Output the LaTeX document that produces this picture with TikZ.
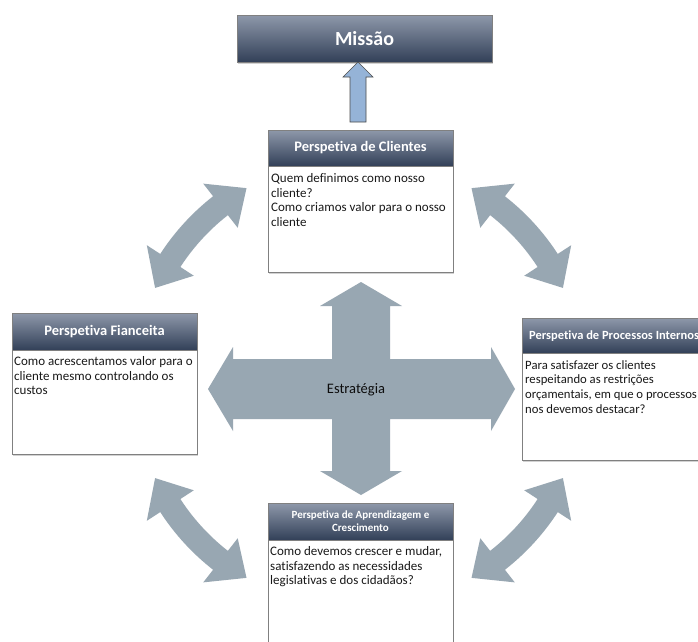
\documentclass[tikz,border=0pt]{standalone}
\usepackage{fontspec}
\setmainfont{Carlito}[Ligatures=NoCommon]
\usetikzlibrary{shadows,calc}
\definecolor{hdtop}{RGB}{142,152,170}
\definecolor{hdbot}{RGB}{50,64,88}
\definecolor{arrowgray}{RGB}{152,167,178}
\definecolor{upblue}{RGB}{149,179,215}
\definecolor{boxline}{RGB}{128,128,128}
\tikzset{
  hdr/.style={draw=boxline, line width=0.7pt, top color=hdtop, bottom color=hdbot},
  bodybox/.style={draw=boxline, line width=0.7pt, fill=white, drop shadow={shadow xshift=1.2pt, shadow yshift=-1.5pt, opacity=0.35}},
  hdtext/.style={text=white, font=\bfseries\fontsize{14.5}{16}\selectfont, inner sep=0pt, align=center},
  bodytext/.style={font=\fontsize{13}{14.8}\selectfont, inner sep=0pt, align=left, anchor=north west, text=black!90},
  bigarrow/.style={fill=arrowgray, draw=none}
}
\newcommand\bscCurved[2]{%
  \fill[arrowgray, shift={(359,383)}]
    (#1:225) -- ({#1+8}:253) -- ({#1+8}:237)
    arc[start angle={#1+8}, end angle={#2-8}, radius=237]
    -- ({#2-8}:253) -- (#2:225) -- ({#2-8}:197) -- ({#2-8}:213)
    arc[start angle={#2-8}, end angle={#1+8}, radius=213]
    -- ({#1+8}:197) -- cycle;}
\begin{document}
\begin{tikzpicture}[x=1pt,y=-1pt]
\useasboundingbox (0,0) rectangle (698,641);
\clip (0,0) rectangle (698,641);
\fill[white] (0,0) rectangle (698,641);

% curved double arrows
\bscCurved{205}{240}
\bscCurved{300}{335}
\bscCurved{25}{60}
\bscCurved{120}{155}

% central cross arrow
\fill[arrowgray] (361,282) -- (402,306) -- (390,306) -- (390,359) -- (491,359) -- (491,347)
  -- (515,389) -- (491,431) -- (491,419) -- (390,419) -- (390,471) -- (402,471)
  -- (361,495) -- (320,471) -- (332,471) -- (332,419) -- (233,419) -- (233,431)
  -- (208,389) -- (233,347) -- (233,359) -- (332,359) -- (332,306) -- (320,306) -- cycle;
\node[font=\fontsize{14.5}{16}\selectfont, text=black!95, inner sep=0pt] (estr) at (356,390) {Estratégia};

% Missao
\path[hdr, drop shadow={shadow xshift=1.2pt, shadow yshift=-1.5pt, opacity=0.35}] (237,15) rectangle (492,62);
\node[text=white, font=\bfseries\fontsize{20}{22}\selectfont, inner sep=0pt] (missao) at (364.5,38.5) {Missão};
\coordinate (mbot) at (358,62);
\draw[fill=upblue, draw=black!70, line width=0.6pt] (mbot) -- (373,77) -- (366,77) -- (366,122) -- (350,122) -- (350,77) -- (343,77) -- cycle;

% Clientes
\path[bodybox] (268,130) rectangle (453,272);
\path[hdr] (268,130) rectangle (453,166);
\node[hdtext] (hcli) at (360.5,148) {Perspetiva de Clientes};
\node[bodytext] (tcli) at (271,173) {Quem definimos como nosso\\cliente?\\Como criamos valor para o nosso\\cliente};

% Fianceita
\path[bodybox] (12,313) rectangle (197,454);
\path[hdr] (12,313) rectangle (197,350);
\node[hdtext] (hfin) at (104.5,331.5) {Perspetiva Fianceita};
\node[bodytext] (tfin) at (14,356) {Como acrescentamos valor para o\\cliente mesmo controlando os\\custos};

% Processos
\path[bodybox] (522,318) rectangle (712,460);
\path[hdr] (522,318) rectangle (712,353);
\node[hdtext, font=\bfseries\fontsize{12.5}{14}\selectfont, anchor=west] (hpro) at (529,336) {Perspetiva de Processos Internos};
\node[bodytext, font=\fontsize{12.7}{14.8}\selectfont] (tpro) at (525,360) {Para satisfazer os clientes\\respeitando as restrições\\orçamentais, em que o processos\\nos devemos destacar?};

% Aprendizagem
\path[bodybox] (268,503) rectangle (453,660);
\path[hdr] (268,503) rectangle (453,540);
\node[hdtext, font=\bfseries\fontsize{11}{12.7}\selectfont] (hapr) at (360.5,521.5) {Perspetiva de Aprendizagem e\\Crescimento};
\node[bodytext] (tapr) at (270,546) {Como devemos crescer e mudar,\\satisfazendo as necessidades\\legislativas e dos cidadãos?};
\end{tikzpicture}
\end{document}
